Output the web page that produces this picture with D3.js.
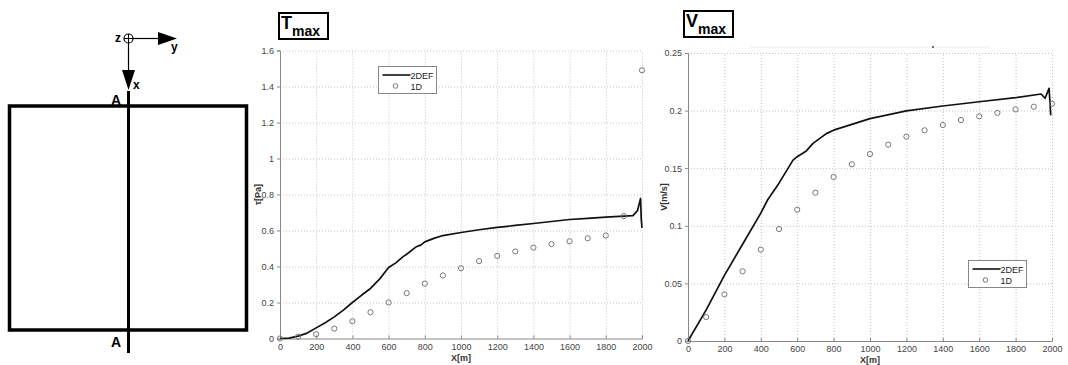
<!DOCTYPE html>
<html>
<head>
<meta charset="utf-8">
<script src="https://cdn.jsdelivr.net/npm/d3@7"></script>
<style>
  body { margin: 0; background: #fff; }
  svg { display: block; font-family: "Liberation Sans", Arial, sans-serif; }
  .tick text { fill: #444; font-size: 9px; }
  .grid line { stroke: #c4c4c4; stroke-dasharray: 1,2; }
  .grid path { stroke: none; }
</style>
</head>
<body>
<div id="chart"></div>
<script>
// Data
var xs1D = [0, 100, 200, 300, 400, 500, 600, 700, 800, 900, 1000, 1100, 1200, 1300, 1400, 1500, 1600, 1700, 1800, 1900, 2000];
var tau1D = [0, 0.01, 0.024, 0.055, 0.096, 0.146, 0.2, 0.252, 0.305, 0.35, 0.39, 0.43, 0.459, 0.483, 0.505, 0.524, 0.54, 0.557, 0.572, 0.68, 1.49];
var v1D = [0, 0.0208, 0.0405, 0.0605, 0.0793, 0.0972, 0.114, 0.1287, 0.1424, 0.1534, 0.1623, 0.1704, 0.1774, 0.1829, 0.1875, 0.1918, 0.195, 0.198, 0.2011, 0.2034, 0.206];

var xsTau2D = [0, 50, 100, 150, 200, 250, 300, 350, 400, 450, 500, 550, 600, 640, 680, 700, 750, 780, 800, 850, 900, 1000, 1100, 1200, 1300, 1400, 1500, 1600, 1700, 1800, 1900, 1950, 1975, 1992, 1996, 2000];
var tau2D = [0, 0.002, 0.013, 0.03, 0.059, 0.088, 0.12, 0.158, 0.2, 0.24, 0.278, 0.33, 0.394, 0.42, 0.455, 0.468, 0.508, 0.52, 0.537, 0.556, 0.572, 0.589, 0.604, 0.617, 0.628, 0.639, 0.65, 0.661, 0.667, 0.674, 0.68, 0.683, 0.71, 0.778, 0.66, 0.615];

var xsV2D = [0, 100, 200, 300, 400, 437, 500, 577, 600, 650, 687, 760, 800, 900, 1000, 1200, 1400, 1600, 1800, 1940, 1962, 1984, 1993];
var v2D = [0, 0.027, 0.057, 0.084, 0.111, 0.1224, 0.137, 0.157, 0.16, 0.165, 0.1716, 0.18, 0.183, 0.188, 0.193, 0.1997, 0.204, 0.2077, 0.2113, 0.2144, 0.2107, 0.2193, 0.196];

var xTicks = [0, 200, 400, 600, 800, 1000, 1200, 1400, 1600, 1800, 2000];
var tauTicks = [0, 0.2, 0.4, 0.6, 0.8, 1, 1.2, 1.4, 1.6];
var vTicks = [0, 0.05, 0.1, 0.15, 0.2, 0.25];

var W = 1068, H = 365;
var svg = d3.select("#chart").append("svg").attr("width", W).attr("height", H);

// ---- left sketch: section A-A ----
var sk = svg.append("g");
sk.append("rect").attr("x", 9.5).attr("y", 106).attr("width", 237).attr("height", 224)
  .attr("fill", "none").attr("stroke", "#000").attr("stroke-width", 3.5);
sk.append("line").attr("x1", 128.5).attr("x2", 128.5).attr("y1", 91).attr("y2", 353)
  .attr("stroke", "#000").attr("stroke-width", 3);
sk.append("text").attr("x", 121).attr("y", 105).attr("text-anchor", "end")
  .attr("font-size", 14).attr("font-weight", "bold").text("A");
sk.append("text").attr("x", 121).attr("y", 347).attr("text-anchor", "end")
  .attr("font-size", 14).attr("font-weight", "bold").text("A");
// axes symbol
sk.append("line").attr("x1", 128.5).attr("x2", 160).attr("y1", 38.5).attr("y2", 38.5).attr("stroke", "#000").attr("stroke-width", 1.2);
sk.append("path").attr("d", "M158,32 L177,38.5 L158,45 Z").attr("fill", "#000");
sk.append("line").attr("x1", 128.5).attr("x2", 128.5).attr("y1", 38.5).attr("y2", 72).attr("stroke", "#000").attr("stroke-width", 1.2);
sk.append("path").attr("d", "M122,70 L128.5,90 L135,70 Z").attr("fill", "#000");
sk.append("circle").attr("cx", 128.5).attr("cy", 38.5).attr("r", 4.5).attr("fill", "#fff").attr("stroke", "#000").attr("stroke-width", 1.2);
sk.append("line").attr("x1", 124).attr("x2", 133).attr("y1", 38.5).attr("y2", 38.5).attr("stroke", "#000").attr("stroke-width", 1);
sk.append("line").attr("x1", 128.5).attr("x2", 128.5).attr("y1", 34).attr("y2", 43).attr("stroke", "#000").attr("stroke-width", 1);
sk.append("text").attr("x", 121).attr("y", 42).attr("text-anchor", "end").attr("font-size", 12).attr("font-weight", "bold").text("z");
sk.append("text").attr("x", 171).attr("y", 51).attr("font-size", 12).attr("font-weight", "bold").text("y");
sk.append("text").attr("x", 133).attr("y", 89).attr("font-size", 12).attr("font-weight", "bold").text("x");

// ---- chart panels ----
function panel(cfg) {
  var g = svg.append("g");
  var x = d3.scaleLinear().domain([0, 2000]).range([cfg.left, cfg.right]);
  var y = d3.scaleLinear().domain(cfg.yDomain).range([cfg.bottom, cfg.top]);
  var chartW = cfg.right - cfg.left, chartH = cfg.bottom - cfg.top;

  // dotted grid
  g.append("g").attr("class", "grid")
    .attr("transform", "translate(0," + cfg.bottom + ")")
    .call(d3.axisBottom(x).tickValues(xTicks.slice(1)).tickSize(-chartH).tickFormat(""));
  g.append("g").attr("class", "grid")
    .attr("transform", "translate(" + cfg.left + ",0)")
    .call(d3.axisLeft(y).tickValues(cfg.yTicks.slice(1)).tickSize(-chartW).tickFormat(""));

  // axes
  var xa = g.append("g").attr("transform", "translate(0," + cfg.bottom + ")")
    .call(d3.axisBottom(x).tickValues(xTicks).tickSize(-3).tickPadding(5).tickFormat(d3.format("d")));
  var ya = g.append("g").attr("transform", "translate(" + cfg.left + ",0)")
    .call(d3.axisLeft(y).tickValues(cfg.yTicks).tickSize(3).tickPadding(3).tickFormat(function(d) { return String(d); }));
  [xa, ya].forEach(function(a) {
    a.select(".domain").attr("stroke", "#888");
    a.selectAll(".tick line").attr("stroke", "#888");
  });

  // axis labels
  g.append("text").attr("x", (cfg.left + cfg.right) / 2).attr("y", cfg.bottom + 22)
    .attr("text-anchor", "middle").attr("font-size", 9).attr("font-weight", "bold").attr("fill", "#333").text("X[m]");
  g.append("text").attr("transform", "translate(" + cfg.ylabX + "," + (cfg.top + cfg.bottom) / 2 + ") rotate(-90)")
    .attr("text-anchor", "middle").attr("font-size", 9).attr("font-weight", "bold").attr("fill", "#333").text(cfg.ylabel);

  // 2DEF line
  var line = d3.line().x(function(d) { return x(d[0]); }).y(function(d) { return y(d[1]); });
  g.append("path").datum(d3.zip(cfg.lineX, cfg.lineY))
    .attr("d", line).attr("fill", "none").attr("stroke", "#111").attr("stroke-width", 1.7)
    .attr("stroke-linejoin", "round");

  // 1D points
  g.selectAll(".pt").data(d3.zip(xs1D, cfg.pts)).enter().append("circle")
    .attr("class", "pt")
    .attr("cx", function(d) { return x(d[0]); })
    .attr("cy", function(d) { return y(d[1]); })
    .attr("r", 2.6).attr("fill", "none").attr("stroke", "#777").attr("stroke-width", 1);

  // title box
  var t = g.append("g").attr("transform", "translate(" + cfg.titleX + "," + cfg.titleY + ")");
  t.append("rect").attr("x", 0).attr("y", 0).attr("width", 49).attr("height", 26)
    .attr("fill", "#fff").attr("stroke", "#000").attr("stroke-width", 2);
  var tt = t.append("text").attr("x", 2).attr("y", 16).attr("font-weight", "bold");
  tt.append("tspan").attr("font-size", 18).text(cfg.titleMain);
  tt.append("tspan").attr("font-size", 14).attr("dy", 7).text("max");

  // legend
  var lg = g.append("g").attr("transform", "translate(" + cfg.legX + "," + cfg.legY + ")");
  lg.append("rect").attr("width", 58).attr("height", 27).attr("fill", "#fff").attr("stroke", "#888").attr("stroke-width", 1);
  lg.append("line").attr("x1", 4).attr("x2", 32).attr("y1", 8.5).attr("y2", 8.5).attr("stroke", "#111").attr("stroke-width", 1.6);
  lg.append("circle").attr("cx", 17).attr("cy", 19.5).attr("r", 2.3).attr("fill", "none").attr("stroke", "#777");
  lg.append("text").attr("x", 32).attr("y", 12).attr("font-size", 9).attr("fill", "#222").text("2DEF");
  lg.append("text").attr("x", 32).attr("y", 23).attr("font-size", 9).attr("fill", "#222").text("1D");
  return g;
}

panel({
  left: 280, right: 642, top: 50.5, bottom: 338.5,
  yDomain: [0, 1.6], yTicks: tauTicks,
  lineX: xsTau2D, lineY: tau2D, pts: tau1D,
  ylabel: "\u03c4[Pa]", ylabX: 261,
  titleMain: "T", titleX: 279, titleY: 13,
  legX: 378.5, legY: 66.5
});

var p2 = panel({
  left: 688, right: 1052, top: 53, bottom: 341,
  yDomain: [0, 0.25], yTicks: vTicks,
  lineX: xsV2D, lineY: v2D, pts: v1D,
  ylabel: "V[m/s]", ylabX: 667,
  titleMain: "V", titleX: 684, titleY: 11,
  legX: 968.5, legY: 260.5
});

// stray mark above the second plot
p2.append("line").attr("x1", 750).attr("x2", 990).attr("y1", 47).attr("y2", 47).attr("stroke", "#eee").attr("stroke-width", 1);
p2.append("circle").attr("cx", 933).attr("cy", 47).attr("r", 0.9).attr("fill", "#333");
</script>
</body>
</html>
